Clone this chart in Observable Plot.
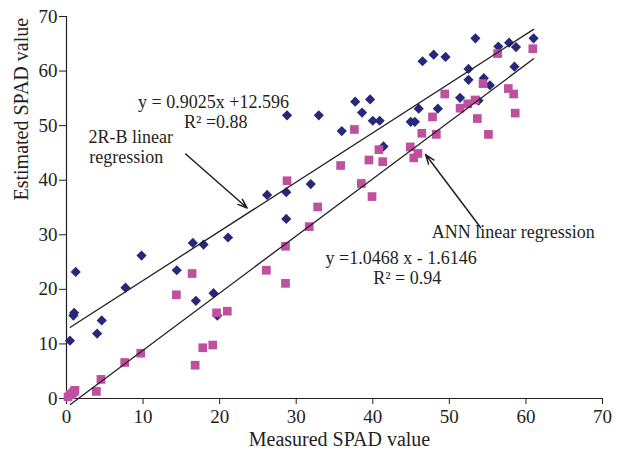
<!DOCTYPE html>
<html><head><meta charset="utf-8">
<script src="https://cdn.jsdelivr.net/npm/d3@7"></script>
<script src="https://cdn.jsdelivr.net/npm/@observablehq/plot@0.6"></script>
<style>html,body{margin:0;padding:0;background:#fff}</style>
</head><body><div id="chart"></div>
<script>
// 2R-B linear regression estimates (blue diamonds)
const blueX = [0.45,0.9,1.0,1.2,4.0,4.6,7.7,9.8,14.4,16.5,16.9,17.9,19.2,19.7,21.1,26.2,28.7,28.7,31.9,28.8,32.95,35.95,37.7,39.65,38.6,40.0,40.9,41.4,44.95,45.5,46.0,48.5,46.5,47.95,49.5,51.4,53.4,52.5,52.5,53.8,54.5,55.3,56.4,57.8,58.7,58.5,61.0];
const blueY = [10.6,15.2,15.7,23.2,11.9,14.3,20.3,26.2,23.5,28.5,17.9,28.2,19.3,15.2,29.5,37.3,37.8,32.9,39.3,51.9,51.9,49.0,54.4,54.8,52.4,50.9,50.9,46.2,50.7,50.7,53.1,53.1,61.8,63.0,62.6,55.1,66.0,60.4,58.4,54.6,58.7,57.4,64.5,65.2,64.4,60.8,66.0];
// ANN linear regression estimates (pink squares)
const pinkX = [0.2,0.5,0.8,1.0,1.1,3.9,4.5,7.6,9.7,14.35,16.4,16.8,17.8,19.1,19.6,21.0,26.1,28.6,28.6,28.8,31.7,32.8,35.8,38.5,39.9,39.5,41.3,45.35,37.6,40.8,44.9,45.9,46.4,48.3,47.8,49.4,51.4,52.4,53.35,53.65,55.1,54.4,56.3,57.7,58.4,58.6,60.9];
const pinkY = [0.3,0.7,1.0,1.3,1.5,1.3,3.5,6.6,8.3,19.0,22.9,6.1,9.3,9.8,15.7,16.0,23.5,21.1,27.9,39.9,31.5,35.1,42.7,39.4,37.0,43.7,43.4,44.1,49.3,45.6,46.1,44.9,48.6,48.4,51.6,55.8,53.2,54.0,54.7,51.3,48.4,57.7,63.2,56.8,55.8,52.3,64.1];
// Regression lines (slope, intercept) and drawn x-extent
const blueFit = [0.9025, 12.596];
const pinkFit = [1.0468, -1.6146];
const fitRange = [0.5, 61];
// Ticks
const xTicks = [0,10,20,30,40,50,60,70];
const yTicks = [0,10,20,30,40,50,60,70];
// Annotations
const labels = ["y = 0.9025x +12.596", "R² =0.88", "2R-B linear", "regression", "ANN linear regression", "y =1.0468 x - 1.6146", "R² = 0.94"];
const labelX = [19.2, 19.5, 8.4, 7.8, 58.35, 43.7, 44.5];
const labelY = [54.2, 50.7, 47.9, 44.3, 30.4, 25.7, 22.0];
// Arrows [x1,y1,x2,y2]
const arrowsData = [[15.56,44.8,23.6,34.9],[54.1,31.3,46.9,44.7]];

const blue = blueX.map((x,i)=>({x, y: blueY[i]}));
const pink = pinkX.map((x,i)=>({x, y: pinkY[i]}));
const lineOf = f => fitRange.map(x => ({x, y: f[0]*x + f[1]}));
const ann = labels.map((t,i)=>({t, x: labelX[i], y: labelY[i]}));
const arrows = arrowsData.map(a=>({x1:a[0],y1:a[1],x2:a[2],y2:a[3]}));

const ink = "#231f20";
const chart = Plot.plot({
  width: 623, height: 452,
  marginLeft: 66, marginRight: 21, marginTop: 16, marginBottom: 54,
  style: {fontFamily: "'Liberation Serif', serif", fontSize: "19px", color: ink, background: "white", overflow: "visible"},
  x: {domain: [0,70]},
  y: {domain: [0,70]},
  marks: [
    Plot.axisX({ticks: xTicks, tickSize: 6, tickPadding: 5, label: null, fontSize: 19, stroke: ink}),
    Plot.axisY({ticks: yTicks, tickSize: 7, tickPadding: 2, label: null, fontSize: 19, stroke: ink}),
    Plot.ruleY([0], {stroke: ink, strokeWidth: 1.2}),
    Plot.ruleX([0], {stroke: ink, strokeWidth: 1.2}),
    Plot.dot(blue, {x: "x", y: "y", symbol: "diamond2", r: 4.6, fill: "#26297a", stroke: "none"}),
    Plot.dot(pink, {x: "x", y: "y", symbol: "square", r: 4.9, fill: "#bf4f9f", stroke: "none"}),
    Plot.line(lineOf(blueFit), {x: "x", y: "y", stroke: ink, strokeWidth: 1.3}),
    Plot.line(lineOf(pinkFit), {x: "x", y: "y", stroke: ink, strokeWidth: 1.3}),
    Plot.arrow(arrows, {x1: "x1", y1: "y1", x2: "x2", y2: "y2", stroke: ink, strokeWidth: 1.5, headLength: 10, headAngle: 40}),
    Plot.text(ann, {x: "x", y: "y", text: "t", fontSize: 18, fill: ink, lineAnchor: "middle"}),
    Plot.text(["Measured SPAD value"], {frameAnchor: "bottom", dx: 5, dy: 41, fontSize: 20, fill: ink, lineAnchor: "middle"}),
    Plot.text(["Estimated SPAD value"], {frameAnchor: "left", dx: -45, dy: -7, rotate: -90, fontSize: 20, fill: ink, lineAnchor: "middle"})
  ]
});
document.getElementById("chart").append(chart);
</script>
</body></html>
